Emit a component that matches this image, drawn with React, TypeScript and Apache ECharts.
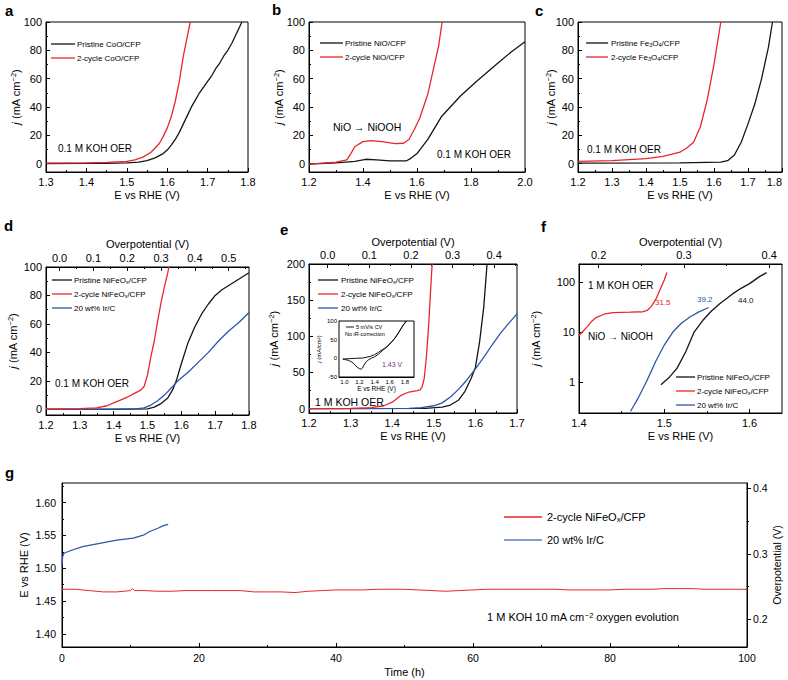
import React, { useEffect, useRef } from 'react';
import * as echarts from 'echarts';

type P = [number, number];

// ---------- Panel a : CoO/CFP, 0.1 M KOH ----------
const aPristine: P[] = [[1.3,0],[1.4,0.1],[1.45,0.2],[1.5,0.5],[1.53,1],[1.55,2],[1.57,4],[1.59,7],[1.6,9.5],[1.61,13],[1.62,17],[1.63,22],[1.64,28],[1.65,34],[1.66,40],[1.67,45],[1.68,50],[1.69,54],[1.7,58],[1.71,62],[1.72,67],[1.73,71],[1.74,76],[1.75,80],[1.76,85],[1.77,91],[1.78,97],[1.785,100]];
const aCycled: P[] = [[1.3,0.3],[1.4,0.5],[1.45,0.8],[1.5,1.5],[1.52,2.5],[1.54,4.5],[1.56,8],[1.57,11],[1.58,14],[1.59,19],[1.6,25],[1.61,33],[1.62,44],[1.63,58],[1.64,76],[1.65,90],[1.657,100]];

// ---------- Panel b : NiO/CFP ----------
const bPristine: P[] = [[1.2,-0.5],[1.3,0.5],[1.37,1.5],[1.41,3],[1.45,2.5],[1.5,1.8],[1.56,1.8],[1.58,4],[1.6,7],[1.64,17],[1.69,33],[1.76,47.5],[1.82,58],[1.9,71],[1.95,79],[2.0,86]];
const bCycled: P[] = [[1.2,-0.5],[1.3,1],[1.34,2.5],[1.355,7],[1.37,12],[1.4,15.5],[1.43,16.2],[1.47,15.5],[1.52,14],[1.55,14.3],[1.57,17],[1.59,24],[1.61,32],[1.64,49],[1.66,66],[1.68,83],[1.693,100]];

// ---------- Panel c : Fe3O4/CFP ----------
const cPristine: P[] = [[1.2,0.3],[1.5,0.5],[1.62,1],[1.64,2],[1.66,6],[1.68,15],[1.7,28],[1.72,42],[1.74,60],[1.76,82],[1.772,100]];
const cCycled: P[] = [[1.2,1.5],[1.3,2],[1.4,3.5],[1.45,5],[1.5,8],[1.52,11],[1.54,15],[1.56,26],[1.58,45],[1.6,70],[1.61,85],[1.62,100]];

// ---------- Panel d : NiFeOx/CFP, 0.1 M KOH ----------
const dPristine: P[] = [[1.2,0],[1.4,0],[1.5,0.3],[1.52,1.5],[1.54,4],[1.56,8],[1.575,14],[1.585,20],[1.6,32],[1.62,47],[1.64,58],[1.66,67],[1.68,74],[1.7,80],[1.72,84],[1.74,87],[1.76,90],[1.78,93],[1.8,96]];
const dCycled: P[] = [[1.2,0.2],[1.3,0.5],[1.35,1],[1.38,2.5],[1.4,4.5],[1.42,6.5],[1.44,8.5],[1.46,11],[1.48,13.5],[1.49,16],[1.5,24],[1.51,37],[1.52,48],[1.53,62],[1.54,75],[1.55,86],[1.56,96],[1.563,100]];
const dIrC: P[] = [[1.2,0],[1.46,0.2],[1.49,1],[1.51,3],[1.53,6],[1.55,10],[1.57,15],[1.59,20],[1.62,26],[1.65,33],[1.68,40],[1.71,48],[1.74,55],[1.77,61],[1.8,68]];

// ---------- Panel e : NiFeOx/CFP, 1 M KOH ----------
const ePristine: P[] = [[1.2,0],[1.48,0.3],[1.52,2],[1.54,5],[1.56,12],[1.575,24],[1.59,42],[1.6,57],[1.61,92],[1.62,140],[1.628,200]];
const eCycled: P[] = [[1.2,0],[1.3,0.3],[1.35,1.5],[1.38,4],[1.4,9],[1.42,18],[1.44,23],[1.46,25],[1.467,26],[1.472,30],[1.477,42],[1.482,70],[1.487,110],[1.492,160],[1.496,200]];
const eIrC: P[] = [[1.2,0],[1.44,0.5],[1.47,1.5],[1.5,4],[1.52,8],[1.54,16],[1.56,27],[1.58,40],[1.6,55],[1.62,71],[1.64,88],[1.66,104],[1.68,118],[1.7,131]];
const eInsetCV: P[] = [[0.98,-2],[1.05,-1],[1.15,0],[1.25,1],[1.34,5],[1.4,10],[1.45,16],[1.5,23],[1.56,30],[1.62,42],[1.69,60],[1.75,80],[1.8,95],[1.82,100],[1.78,90],[1.72,70],[1.66,52],[1.6,39],[1.56,31],[1.5,20],[1.45,11],[1.4,4],[1.36,0.5],[1.32,-4],[1.29,-9],[1.26,-18],[1.24,-26],[1.22,-29],[1.2,-28],[1.17,-24],[1.13,-15],[1.1,-10],[1.05,-5],[1.0,-3],[0.98,-2]];

// ---------- Panel f : Tafel plots (log j) ----------
const fPristine: P[] = [[1.496,0.88],[1.505,1.2],[1.515,1.9],[1.525,4],[1.535,10],[1.545,17],[1.555,26],[1.565,37],[1.58,58],[1.59,75],[1.6,93],[1.612,130],[1.62,155]];
const fCycled: P[] = [[1.4,8.5],[1.405,10.5],[1.41,13],[1.415,16.5],[1.42,19.5],[1.43,23],[1.44,24.5],[1.46,25],[1.475,25.5],[1.48,27],[1.485,33],[1.49,45],[1.495,70],[1.5,110],[1.503,155]];
const fIrC: P[] = [[1.4605,0.26],[1.47,0.5],[1.48,1.1],[1.49,2.6],[1.5,5.5],[1.51,10],[1.52,15],[1.53,20],[1.54,25],[1.552,31]];

// ---------- Panel g : stability ----------
const gCycled: P[] = [[0,1.468],[2,1.468],[4,1.466],[6,1.464],[8,1.464],[10,1.466],[10.3,1.469],[10.6,1.466],[12,1.466],[14,1.465],[16,1.465],[18,1.466],[20,1.466],[22,1.466],[24,1.466],[26,1.466],[28,1.464],[30,1.464],[32,1.464],[34,1.463],[36,1.465],[38,1.466],[40,1.467],[42,1.467],[44,1.467],[46,1.468],[48,1.468],[50,1.468],[52,1.467],[54,1.466],[56,1.465],[58,1.466],[60,1.467],[62,1.468],[64,1.468],[66,1.468],[68,1.468],[70,1.468],[72,1.468],[74,1.467],[76,1.467],[78,1.467],[80,1.467],[82,1.468],[84,1.468],[86,1.468],[88,1.469],[90,1.469],[92,1.469],[94,1.468],[96,1.468],[98,1.468],[100,1.468]];
const gIrC: P[] = [[0,1.503],[0.1,1.518],[0.3,1.523],[1,1.526],[3,1.533],[5.5,1.538],[8,1.543],[10.4,1.546],[12,1.551],[12.8,1.556],[14,1.561],[14.8,1.565],[15.5,1.567]];

// ---------- tick labels ----------
const ticksE13 = [1.3,1.4,1.5,1.6,1.7,1.8];
const minorE13 = [1.35,1.45,1.55,1.65,1.75];
const ticksE12to18 = [1.2,1.3,1.4,1.5,1.6,1.7,1.8];
const minorE12to18 = [1.25,1.35,1.45,1.55,1.65,1.75];
const ticksE12to20 = [1.2,1.4,1.6,1.8,2.0];
const minorE12to20 = [1.3,1.5,1.7,1.9];
const ticksE12to17 = [1.2,1.3,1.4,1.5,1.6,1.7];
const minorE12to17 = [1.25,1.35,1.45,1.55,1.65];
const ticksEf = [1.4,1.5,1.6];
const minorEf = [1.45,1.55];
const ticksJ100 = [0,20,40,60,80,100];
const minorJ100 = [10,30,50,70,90];
const ticksJ200 = [0,50,100,150,200];
const minorJ200 = [25,75,125,175];
const ticksJlog = [1,10,100];
const ticksEta_d = [0,0.1,0.2,0.3,0.4,0.5];
const minorEta_d = [0.05,0.15,0.25,0.35,0.45,0.55];
const ticksEta_e = [0,0.1,0.2,0.3,0.4];
const minorEta_e = [0.05,0.15,0.25,0.35,0.45];
const ticksEta_f = [0.2,0.3,0.4];
const minorEta_f = [0.25,0.35];
const ticksInsetE = [1.0,1.2,1.4,1.6,1.8];
const ticksInsetJ = [-50,0,50,100];
const ticksTime = [0,20,40,60,80,100];
const minorTime = [10,30,50,70,90];
const ticksGE = [1.40,1.45,1.50,1.55,1.60];
const minorGE = [1.425,1.475,1.525,1.575,1.625];
const ticksGEta = [0.2,0.3,0.4];
const minorGEta = [0.25,0.35];

const FONT = "'Liberation Sans', Arial, Helvetica, sans-serif";
const BLACK = '#141414';
const RED = '#e8262b';
const BLUE = '#2b56a6';
const PURPLE = '#7b2d90';

type AxisCfg = {
  min: number; max: number; major?: number[]; minor?: number[]; digits?: number;
  log?: boolean; logLabels?: number[]; name?: string; nameGap?: number; nameSize?: number;
  fontSize?: number; margin?: number; inside?: boolean; tickLen?: number; alignMax?: string;
};

const richFor = (fs: number) => ({
  i: { fontStyle: 'italic', fontSize: fs, fontFamily: FONT, color: '#000' },
  s: { fontSize: fs * 0.68, fontFamily: FONT, color: '#000', verticalAlign: 'top' },
  b: { fontSize: fs * 0.68, fontFamily: FONT, color: '#000', verticalAlign: 'bottom' },
});

function buildOption() {
  const grid: any[] = [];
  const xAxis: any[] = [];
  const yAxis: any[] = [];
  const series: any[] = [];
  const graphic: any[] = [];

  const mkAxis = (list: any[], isY: boolean, gi: number, position: string, a: AxisCfg) => {
    const idx = list.length;
    const fs = a.fontSize ?? 11;
    const inside = a.inside ?? true;
    const tl = a.tickLen ?? 4;
    const fmt = (v: number) => {
      if (a.log) return (a.logLabels || []).some((l) => Math.abs(v - l) < l * 1e-6) ? String(v) : '';
      return v.toFixed(a.digits ?? 0);
    };
    const ax: any = {
      gridIndex: gi, type: a.log ? 'log' : 'value', position, min: a.min, max: a.max,
      axisLine: { show: true, onZero: false, lineStyle: { color: '#000', width: 1 } },
      axisTick: { show: true, inside, length: tl, lineStyle: { color: '#000', width: 1 } },
      axisLabel: { show: true, fontSize: fs, fontFamily: FONT, color: '#000', margin: a.margin ?? 4, formatter: fmt },
      splitLine: { show: false },
    };
    if (a.alignMax) ax.axisLabel.alignMaxLabel = a.alignMax;
    if (a.log) {
      ax.logBase = 10;
    } else {
      ax.axisTick.customValues = a.major;
      ax.axisLabel.customValues = a.major;
    }
    if (a.name) {
      const ns = a.nameSize ?? 11;
      ax.name = a.name;
      ax.nameLocation = 'middle';
      ax.nameGap = a.nameGap;
      ax.nameMoveOverlap = false;
      if (isY) ax.nameRotate = 90;
      ax.nameTextStyle = { fontSize: ns, fontFamily: FONT, color: '#000', rich: richFor(ns) };
    }
    list.push(ax);
    if (a.minor && a.minor.length) {
      list.push({
        gridIndex: gi, type: 'value', position, min: a.min, max: a.max,
        axisLine: { show: false, onZero: false },
        axisTick: { show: true, inside, length: tl / 2, customValues: a.minor, lineStyle: { color: '#000', width: 1 } },
        axisLabel: { show: false }, splitLine: { show: false },
      });
    }
    return idx;
  };

  const panel = (g: any, x: AxisCfg, y: AxisCfg, top?: AxisCfg, right?: AxisCfg) => {
    const gi = grid.length;
    grid.push({
      left: g.left, top: g.top, width: g.width, height: g.height, show: true,
      borderColor: '#000', borderWidth: 1, backgroundColor: g.bg ?? 'transparent', z: g.z ?? 0,
      containLabel: false, outerBoundsMode: 'none',
    });
    const xi = mkAxis(xAxis, false, gi, 'bottom', x);
    const yi = mkAxis(yAxis, true, gi, 'left', y);
    if (top) mkAxis(xAxis, false, gi, 'top', top);
    if (right) mkAxis(yAxis, true, gi, 'right', right);
    return { xi, yi };
  };

  const line = (ids: any, data: P[], color: string, width = 1.3, extra: any = {}) => {
    series.push({
      type: 'line', xAxisIndex: ids.xi, yAxisIndex: ids.yi, data, showSymbol: false, symbol: 'none',
      lineStyle: { color, width }, itemStyle: { color }, clip: true, z: 3, silent: true, ...extra,
    });
  };

  const txt = (x: number, y: number, text: string, fs = 10, color = '#000', extra: any = {}) => {
    graphic.push({
      type: 'text', x, y, z: 50,
      style: { text, fill: color, fontSize: fs, fontFamily: FONT, align: 'left', verticalAlign: 'middle', textAlign: 'left', textVerticalAlign: 'middle', rich: richFor(fs), ...extra },
    });
  };
  const seg = (x1: number, y1: number, x2: number, y2: number, color: string, w = 1.3) => {
    graphic.push({ type: 'line', z: 50, shape: { x1, y1, x2, y2 }, style: { stroke: color, lineWidth: w } });
  };
  const legend = (x: number, y0: number, dy: number, items: [string, string][], fs = 8, len = 22, gap = 3) => {
    items.forEach(([label, color], k) => {
      const y = y0 + k * dy;
      seg(x, y, x + len, y, color);
      txt(x + len + gap, y, label, fs);
    });
  };

  const jName = '{i|j} (mA cm{s|−2})';
  const eName = 'E vs RHE (V)';

  // a
  const A = panel({ left: 46, top: 22, width: 202, height: 150 },
    { min: 1.3, max: 1.8, major: ticksE13, minor: minorE13, digits: 1, name: eName, nameGap: 17 },
    { min: -6, max: 100, major: ticksJ100, minor: minorJ100, name: jName, nameGap: 25 });
  line(A, aPristine, BLACK); line(A, aCycled, RED);
  legend(51, 44, 14, [['Pristine CoO/CFP', BLACK], ['2-cycle CoO/CFP', RED]], 8, 24, 2);
  txt(58, 148, '0.1 M KOH OER', 10);

  // b
  const B = panel({ left: 309, top: 22, width: 216, height: 150 },
    { min: 1.2, max: 2.0, major: ticksE12to20, minor: minorE12to20, digits: 1, name: eName, nameGap: 17 },
    { min: -6, max: 100, major: ticksJ100, minor: minorJ100, name: jName, nameGap: 25 });
  line(B, bPristine, BLACK); line(B, bCycled, RED);
  legend(320, 43, 14, [['Pristine NiO/CFP', BLACK], ['2-cycle NiO/CFP', RED]], 8, 23, 2);
  txt(333, 127, 'NiO → NiOOH', 10.5);
  txt(437, 154, '0.1 M KOH OER', 10);

  // c
  const C = panel({ left: 578, top: 22, width: 204, height: 150 },
    { min: 1.2, max: 1.8, major: ticksE12to18, minor: minorE12to18, digits: 1, name: eName, nameGap: 17, alignMax: 'right' },
    { min: -6, max: 100, major: ticksJ100, minor: minorJ100, name: jName, nameGap: 22 });
  line(C, cPristine, BLACK); line(C, cCycled, RED);
  legend(586, 43, 14, [['Pristine Fe{b|3}O{b|4}/CFP', BLACK], ['2-cycle Fe{b|3}O{b|4}/CFP', RED]], 8, 22, 3);
  txt(587, 149, '0.1 M KOH OER', 10);

  // d
  const D = panel({ left: 46, top: 267, width: 203, height: 148 },
    { min: 1.2, max: 1.8, major: ticksE12to18, minor: minorE12to18, digits: 1, name: eName, nameGap: 17 },
    { min: -4, max: 100, major: ticksJ100, minor: minorJ100, name: jName, nameGap: 28 },
    { min: 1.2 - 1.24, max: 1.8 - 1.24, major: ticksEta_d, minor: minorEta_d, digits: 1, name: 'Overpotential (V)', nameGap: 18 });
  line(D, dPristine, BLACK); line(D, dIrC, BLUE); line(D, dCycled, RED);
  legend(52, 280, 14, [['Pristine NiFeO{b|x}/CFP', BLACK], ['2-cycle NiFeO{b|x}/CFP', RED], ['20 wt% Ir/C', BLUE]], 8, 20, 2);
  txt(55, 383, '0.1 M KOH OER', 10);

  // e
  const E = panel({ left: 309, top: 264, width: 208, height: 149 },
    { min: 1.2, max: 1.7, major: ticksE12to17, minor: minorE12to17, digits: 1, name: eName, nameGap: 17 },
    { min: -6, max: 200, major: ticksJ200, minor: minorJ200, name: jName, nameGap: 30 },
    { min: 1.2 - 1.245, max: 1.7 - 1.245, major: ticksEta_e, minor: minorEta_e, digits: 1, name: 'Overpotential (V)', nameGap: 17 });
  line(E, ePristine, BLACK); line(E, eIrC, BLUE); line(E, eCycled, RED);
  legend(318, 280, 14, [['Pristine NiFeO{b|x}/CFP', BLACK], ['2-cycle NiFeO{b|x}/CFP', RED], ['20 wt% Ir/C', BLUE]], 8, 20, 3);
  txt(315, 402, '1 M KOH OER', 10.5);

  // e inset
  const EI = panel({ left: 339, top: 321, width: 75, height: 56, bg: '#ffffff', z: 10 },
    { min: 0.93, max: 1.92, major: ticksInsetE, digits: 1, fontSize: 6, margin: 1.5, tickLen: 2, name: eName, nameGap: 8, nameSize: 6.5 },
    { min: -50, max: 100, major: ticksInsetJ, digits: 0, fontSize: 6, margin: 2, tickLen: 2, name: '{i|j} (mA/cm²)', nameGap: 17, nameSize: 6 });
  line(EI, eInsetCV, BLACK, 1, {
    z: 12,
    markLine: {
      silent: true, symbol: 'none', label: { show: false },
      lineStyle: { type: 'dashed', color: PURPLE, width: 1.5 },
      data: [{ yAxis: 0 }],
    },
  });
  seg(346, 327, 354, 327, BLACK, 1);
  txt(356, 327, '5 mV/s CV', 5.5);
  txt(345, 334, 'No iR-correction', 5.5);
  txt(382, 364, '1.43 V', 7, PURPLE);

  // f
  const F = panel({ left: 579, top: 264, width: 203, height: 149 },
    { min: 1.4, max: 1.638, major: ticksEf, minor: minorEf, digits: 1, name: eName, nameGap: 17 },
    { min: 0.24, max: 230, log: true, logLabels: ticksJlog, name: jName, nameGap: 38 },
    { min: 1.4 - 1.223, max: 1.638 - 1.223, major: ticksEta_f, minor: minorEta_f, digits: 1, name: 'Overpotential (V)', nameGap: 17 });
  line(F, fPristine, BLACK); line(F, fIrC, BLUE); line(F, fCycled, RED);
  legend(676, 377, 14, [['Pristine NiFeO{b|x}/CFP', BLACK], ['2-cycle NiFeO{b|x}/CFP', RED], ['20 wt% Ir/C', BLUE]], 8, 19, 2);
  txt(588, 285, '1 M KOH OER', 10);
  txt(588, 336, 'NiO → NiOOH', 10);
  txt(655, 302, '31.5', 8, RED);
  txt(697, 299, '39.2', 8, BLUE);
  txt(738, 300, '44.0', 8, BLACK);

  // g
  const G = panel({ left: 62, top: 483, width: 685, height: 164 },
    { min: 0, max: 100, major: ticksTime, minor: minorTime, digits: 0, fontSize: 10.5, name: 'Time (h)', nameGap: 19, margin: 5 },
    { min: 1.38, max: 1.63, major: ticksGE, minor: minorGE, digits: 2, fontSize: 10.5, name: eName, nameGap: 33, margin: 6 },
    undefined,
    { min: 1.38 - 1.222, max: 1.63 - 1.222, major: ticksGEta, minor: minorGEta, digits: 1, fontSize: 10.5, name: 'Overpotential (V)', nameGap: 24, nameSize: 10.5, inside: false, margin: 6 });
  line(G, gCycled, RED, 1); line(G, gIrC, BLUE, 1.2);
  legend(504, 517, 23, [['2-cycle NiFeO{b|x}/CFP', RED], ['20 wt% Ir/C', '#5b7fc0']], 11, 38, 5);
  txt(487, 617, '1 M KOH 10 mA cm{s|−2} oxygen evolution', 11);

  // panel letters
  const letters: [string, number, number][] = [['a', 5, 10], ['b', 272, 9], ['c', 535, 10], ['d', 4, 225], ['e', 280, 229], ['f', 541, 226], ['g', 5, 472]];
  letters.forEach(([t, x, y]) => txt(x, y, t, 15, '#000', { fontWeight: 'bold' }));

  return { animation: false, backgroundColor: '#ffffff', grid, xAxis, yAxis, series, graphic };
}

export default function App() {
  const ref = useRef<HTMLDivElement>(null);
  useEffect(() => {
    document.body.style.margin = '0';
    if (!ref.current) return;
    const chart = echarts.init(ref.current, undefined, { renderer: 'svg' });
    chart.setOption(buildOption() as any);
    return () => chart.dispose();
  }, []);
  return <div ref={ref} style={{ width: 788, height: 680, position: 'absolute', left: 0, top: 0, background: '#fff' }} />;
}
